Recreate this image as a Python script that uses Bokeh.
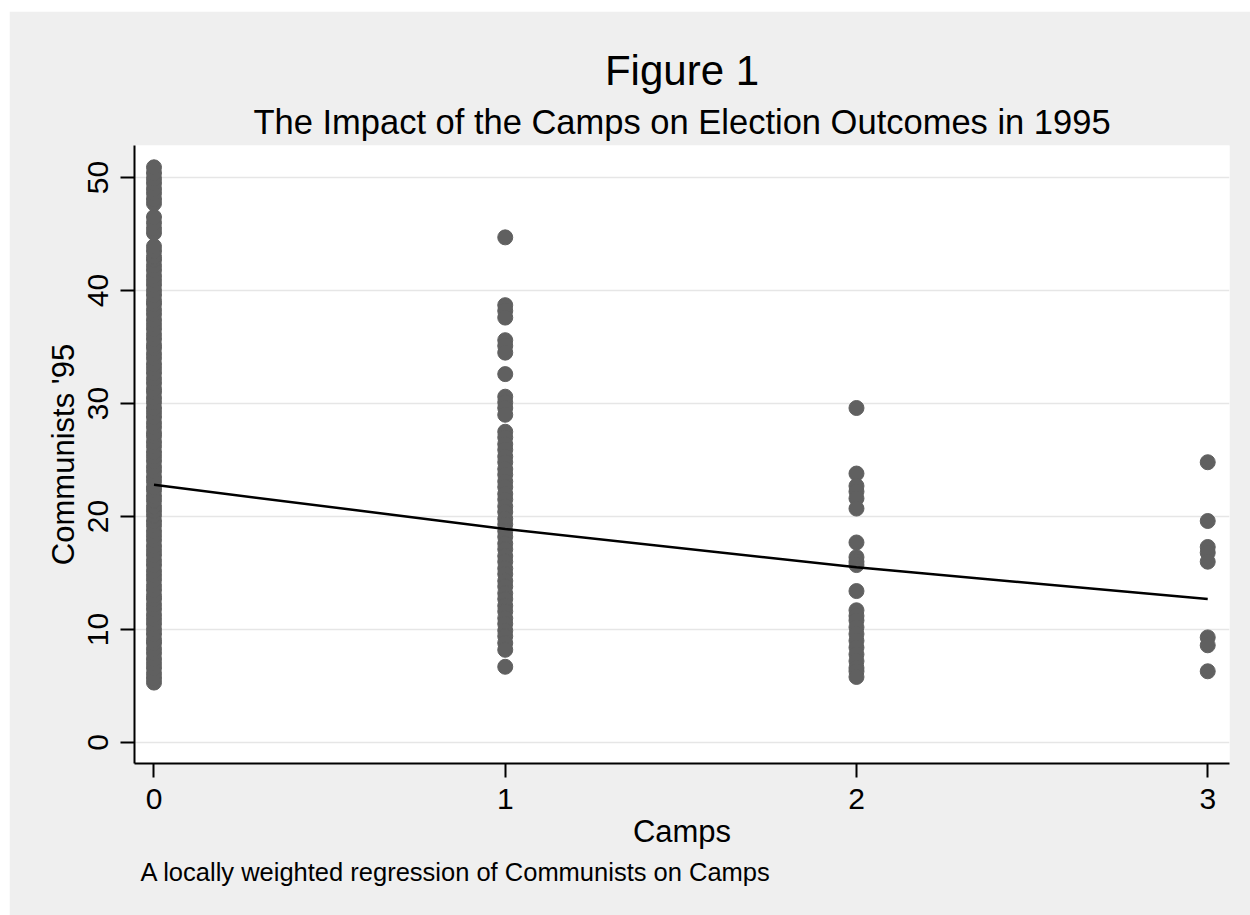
from bokeh.plotting import figure
from bokeh.models import Title, FixedTicker, Range1d, ColumnDataSource
from bokeh.embed import file_html
from bokeh.resources import INLINE

# ---- data ----
camps_levels = [0, 1, 2, 3]
communists_camps0 = [5.3, 5.7, 6.1, 6.6, 7.0, 7.4, 7.9, 8.3, 8.8, 9.1, 9.6, 10.0, 10.5, 10.9,
                     11.3, 11.8, 12.2, 12.7, 13.0, 13.5, 13.9, 14.4, 14.8, 15.2, 15.7, 16.1,
                     16.6, 17.0, 17.4, 17.9, 18.3, 18.7, 19.2, 19.6, 20.1, 20.5, 20.9, 21.4,
                     21.8, 22.3, 22.6, 23.1, 23.5, 24.0, 24.4, 24.9, 25.3, 25.7, 26.2, 26.6,
                     27.1, 27.4, 27.9, 28.3, 28.8, 29.2, 29.6, 30.1, 30.5, 31.0, 31.3, 31.8,
                     32.2, 32.7, 33.1, 33.5, 34.0, 34.4, 34.9, 35.2, 35.7, 36.1, 36.6, 37.0,
                     37.4, 37.9, 38.3, 38.8, 39.1, 39.6, 40.0, 40.5, 40.9, 41.3, 41.8, 42.2,
                     42.7, 43.0, 43.5, 43.9, 45.1, 45.5, 46.0, 46.5, 47.7, 48.1, 48.6, 49.0,
                     49.5, 49.9, 50.4, 50.9]
communists_camps1 = [44.7, 38.7, 38.2, 37.6, 35.6, 35.1, 34.5, 32.6, 30.6, 30.1, 29.6, 29.0,
                     27.5, 27.0, 26.4, 25.9, 25.3, 24.8, 24.2, 23.7, 23.1, 22.6, 22.0, 21.5,
                     20.9, 20.4, 19.8, 19.3, 18.7, 18.2, 17.6, 17.1, 16.5, 16.0, 15.4, 14.9,
                     14.3, 13.8, 13.2, 12.7, 12.1, 11.6, 11.0, 10.5, 9.9, 9.4, 8.8, 8.2, 6.7]
communists_camps2 = [29.6, 23.8, 22.7, 22.2, 21.6, 20.7, 17.7, 16.4, 16.0, 15.7, 13.4, 11.7,
                     11.2, 10.8, 10.2, 9.6, 9.0, 8.4, 7.8, 7.2, 6.6, 6.3, 5.8]
communists_camps3 = [24.8, 19.6, 17.3, 16.8, 16.0, 9.3, 8.6, 6.3]
lowess_x = [0, 1, 2, 3]
lowess_y = [22.8, 18.9, 15.5, 12.7]
y_ticks = [0, 10, 20, 30, 40, 50]
x_ticks = [0, 1, 2, 3]

groups = [communists_camps0, communists_camps1, communists_camps2, communists_camps3]
xs, ys = [], []
for lvl, vals in zip(camps_levels, groups):
    xs += [lvl] * len(vals)
    ys += vals
src = ColumnDataSource(dict(x=xs, y=ys))

FONT = "Liberation Sans"
BG = "#EFEFEF"

p = figure(width=1241, height=904, output_backend="svg", toolbar_location=None,
           x_range=Range1d(-0.0555, 3.062), y_range=Range1d(-1.86, 52.83),
           min_border_left=125, min_border_right=21, min_border_top=134,
           min_border_bottom=152, margin=(11, 0, 0, 9),
           background_fill_color="white", border_fill_color=BG, outline_line_color=None)

p.scatter("x", "y", source=src, size=15, fill_color="#606060", line_color="#606060")
p.line(lowess_x, lowess_y, line_color="black", line_width=2.5)

p.add_layout(Title(text="The Impact of the Camps on Election Outcomes in 1995",
                   text_font=FONT, text_font_size="34.5px", text_font_style="normal",
                   text_color="black", align="center", standoff=9), "above")
p.add_layout(Title(text="Figure 1", text_font=FONT, text_font_size="42px",
                   text_font_style="normal", text_color="black", align="center",
                   standoff=5), "above")
p.add_layout(Title(text="A locally weighted regression of Communists on Camps",
                   text_font=FONT, text_font_size="25.5px", text_font_style="normal",
                   text_color="black", align="left", offset=6, standoff=8), "below")

p.xgrid.grid_line_color = None
p.ygrid.ticker = FixedTicker(ticks=y_ticks)
p.ygrid.grid_line_color = "#E6E6E6"
p.ygrid.grid_line_width = 1.5

for ax in (p.xaxis[0], p.yaxis[0]):
    ax.axis_line_width = 2
    ax.axis_line_color = "black"
    ax.major_tick_line_width = 2
    ax.major_tick_line_color = "black"
    ax.major_tick_out = 14
    ax.major_tick_in = 0
    ax.minor_tick_line_color = None
    ax.major_label_text_font = FONT
    ax.major_label_text_font_size = "30px"
    ax.major_label_text_color = "black"
    ax.axis_label_text_font = FONT
    ax.axis_label_text_font_size = "31px"
    ax.axis_label_text_font_style = "normal"
    ax.axis_label_text_color = "black"

p.xaxis.ticker = FixedTicker(ticks=x_ticks)
p.yaxis.ticker = FixedTicker(ticks=y_ticks)
p.xaxis.axis_label = "Camps"
p.yaxis.axis_label = "Communists '95"
p.xaxis.major_label_standoff = 11
p.xaxis.axis_label_standoff = 2
p.yaxis.major_label_standoff = 12
p.yaxis.axis_label_standoff = 5
p.yaxis.major_label_orientation = "vertical"

open("out.html", "w").write(file_html(p, INLINE))
